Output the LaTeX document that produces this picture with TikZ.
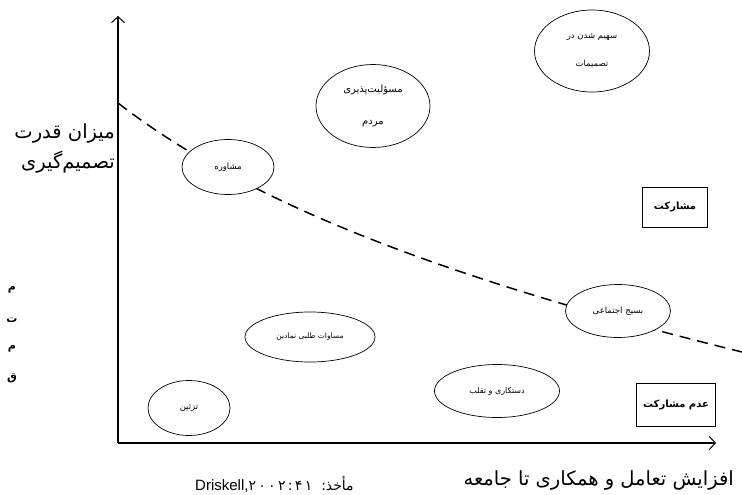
\documentclass[tikz,border=0pt]{standalone}
\usepackage{fontspec}
\usetikzlibrary{arrows.meta,shapes.geometric}
\newfontfamily\arabicfont[Script=Arabic]{DejaVu Sans}
\newfontfamily\latinsans{Liberation Sans}
\TeXXeTstate=1
\tikzset{
  ell/.style={draw=black, fill=white, line width=0.7pt, ellipse, inner sep=0pt, font=\arabicfont\fontsize{8.5}{10}\selectfont, align=center},
  catbox/.style={draw=black, fill=white, line width=0.8pt, rectangle, inner sep=0pt, font=\arabicfont\bfseries\fontsize{10}{12}\selectfont},
  axis/.style={line width=1.4pt, -{Straight Barb[length=6pt,width=13pt,line width=1pt]}},
  axlabel/.style={font=\arabicfont\fontsize{19.5}{22}\selectfont, inner sep=0pt},
  frag/.style={font=\arabicfont\bfseries\fontsize{11}{12}\selectfont, inner sep=0pt},
  curve/.style={line width=1.5pt, dash pattern=on 11pt off 7pt}
}
\begin{document}
\begin{tikzpicture}[x=1pt,y=-1pt]
\useasboundingbox[fill=white] (0,0) rectangle (742,495);
% axes
\coordinate (O) at (118,443);
\coordinate (ytop) at (118,16);
\coordinate (xend) at (716,443);
\draw[axis] (O) -- (ytop);
\draw[axis] (O) -- (xend);
% dashed curve
\coordinate (cs) at (118,103);
\coordinate (ce) at (742,352);
\draw[curve] (cs) .. controls (250,205) and (450,280) .. (ce);
% ellipses
\node[ell, minimum width=92pt, minimum height=55pt] (mosh) at (228,167) {\beginR مشاوره\endR};
\node[ell, minimum width=114pt, minimum height=83pt, font=\arabicfont\fontsize{10}{12}\selectfont] (mas) at (373,106) {\beginR مسؤلیت‌پذیری\endR\\[20pt]\beginR مردم\endR};
\node[ell, minimum width=115pt, minimum height=82pt] (sah) at (592,51) {\beginR سهیم شدن در\endR\\[18pt]\beginR تصمیمات\endR};
\node[ell, minimum width=105pt, minimum height=53pt] (bas) at (618,311) {\beginR بسیج اجتماعی\endR};
\node[ell, minimum width=130pt, minimum height=50pt, font=\arabicfont\fontsize{7.5}{9}\selectfont] (mos) at (310,337) {\beginR مساوات طلبی نمادین\endR};
\node[ell, minimum width=82pt, minimum height=55pt] (taz) at (189,408) {\beginR تزئین\endR};
\node[ell, minimum width=125pt, minimum height=53pt, font=\arabicfont\fontsize{8}{10}\selectfont] (das) at (497,391) {\beginR دستکاری و تقلب\endR};
% category boxes
\node[catbox, minimum width=65pt, minimum height=40pt] (mosh2) at (675,207) {\beginR مشارکت\endR};
\node[catbox, minimum width=79pt, minimum height=43pt] (adam) at (676,405) {\beginR عدم مشارکت\endR};
% axis labels
\node[axlabel, anchor=east] (yl1) at (115,133) {\beginR میزان قدرت\endR};
\node[axlabel, anchor=east] (yl2) at (115,162) {\beginR تصمیم‌گیری\endR};
\node[axlabel, anchor=east] (xl) at (734,480) {\beginR افزایش تعامل و همکاری تا جامعه\endR};
\node[inner sep=0pt, anchor=west, font=\latinsans\fontsize{15}{17}\selectfont] (src) at (195,484) {Driskell,{\arabicfont\fontsize{14}{16}\selectfont\beginL ۲\,۰\,۰\,۲\,:\,۴\,۱\ \ :\endL\beginR مأخذ\endR}};
% cropped page-edge fragments
\node[frag] (f1) at (12,290) {\beginR م\endR};
\node[frag] (f2) at (12,320) {\beginR ت\endR};
\node[frag] (f3) at (12,349) {\beginR م\endR};
\node[frag] (f4) at (12,378) {\beginR ق\endR};
\end{tikzpicture}
\end{document}
